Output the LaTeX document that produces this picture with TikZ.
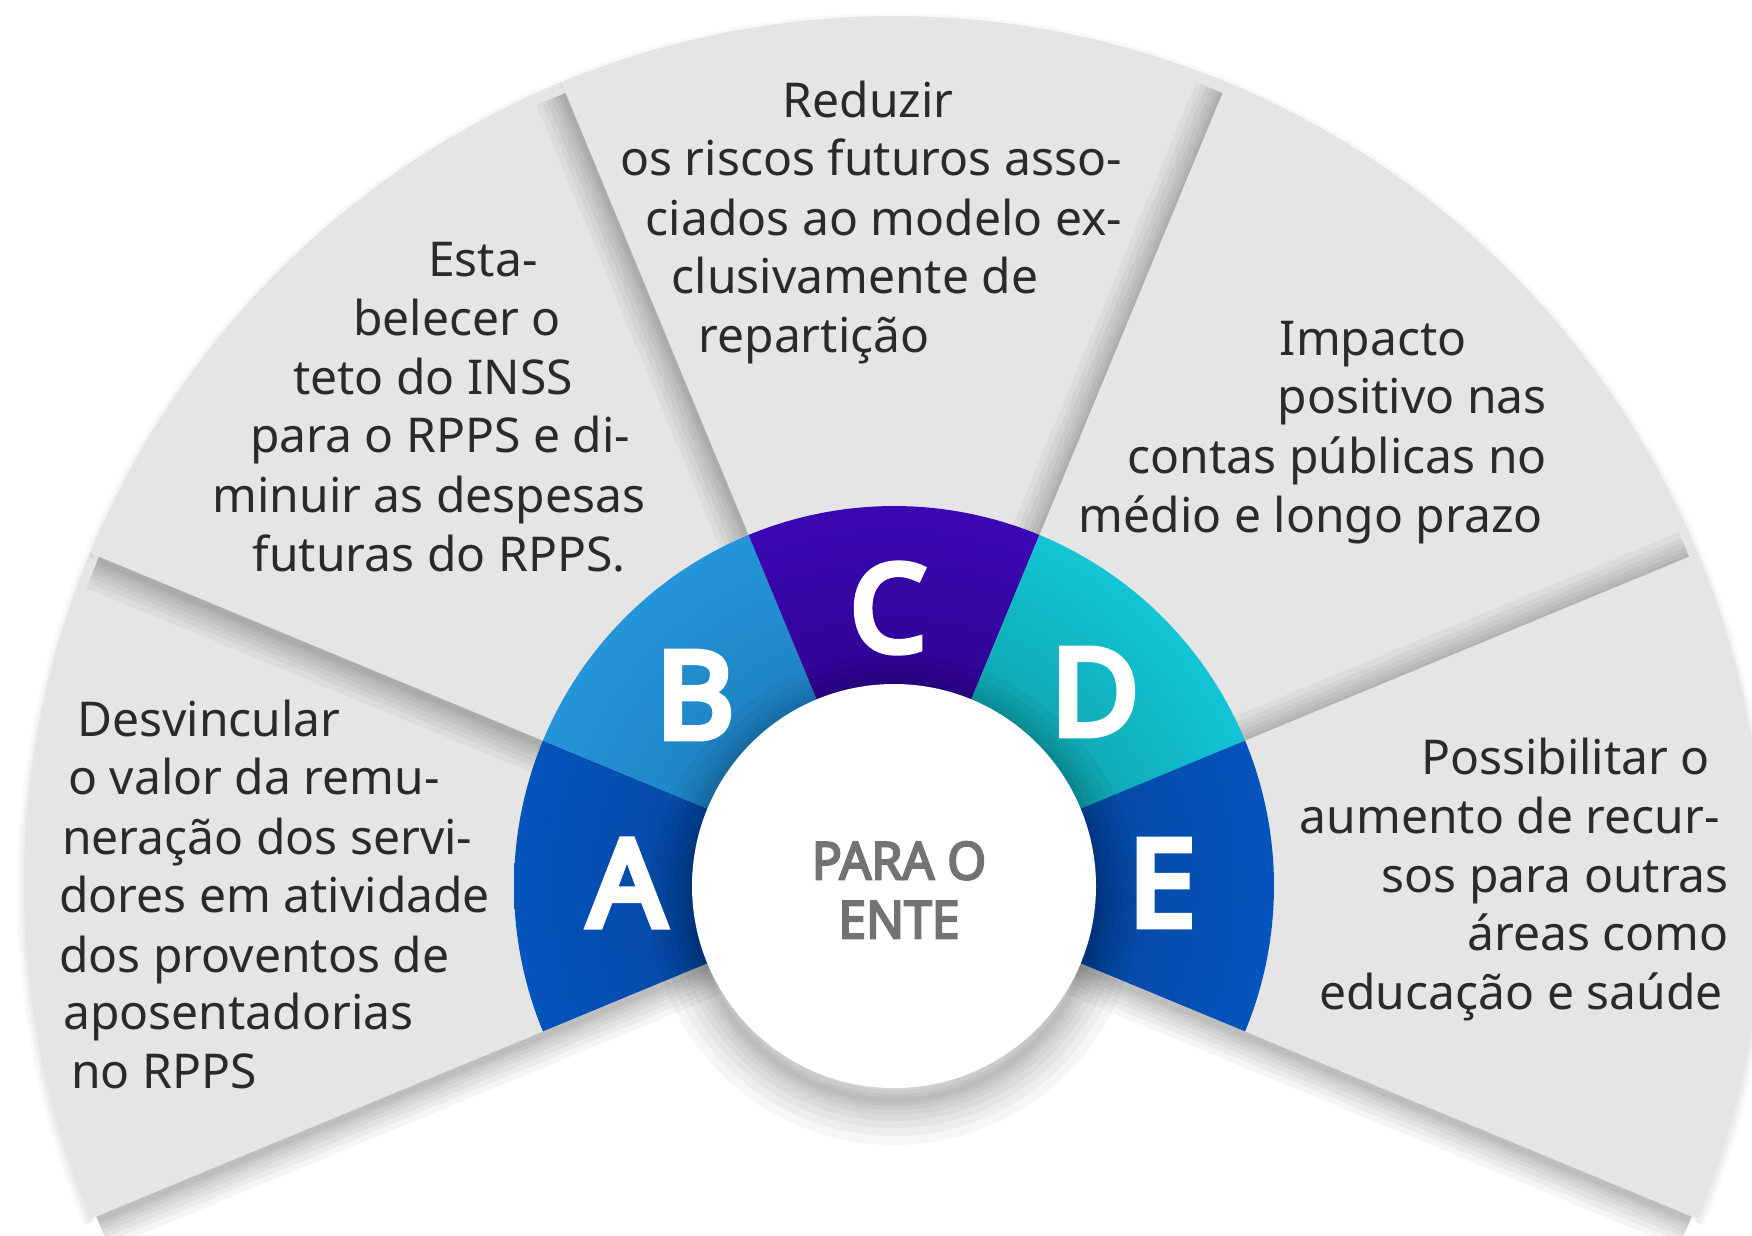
\documentclass[tikz,border=0pt]{standalone}
\usepackage{fontspec}
\usetikzlibrary{calc}
\setmainfont{Noto Sans}
\newfontfamily\heavyfont[FakeBold=6]{Noto Sans}
\newfontfamily\condfont[FakeStretch=0.96,FakeBold=4]{Noto Sans}
\definecolor{greyS}{HTML}{E5E5E5}
\definecolor{txt}{HTML}{2A2A2A}
\definecolor{centretxt}{HTML}{737373}
\definecolor{Aout}{HTML}{0553BC}\definecolor{Ain}{HTML}{063C8A}
\definecolor{Bout}{HTML}{2495DA}\definecolor{Bin}{HTML}{196CA8}
\definecolor{Cout}{HTML}{3B07B4}\definecolor{Cin}{HTML}{22026E}
\definecolor{Dout}{HTML}{12C5D5}\definecolor{Din}{HTML}{0C8286}
\definecolor{Eout}{HTML}{0553BC}\definecolor{Ein}{HTML}{063C8A}
\tikzset{
  body/.style={font=\fontsize{48}{58}\selectfont, text=txt, inner sep=0pt},
  letter/.style={font=\heavyfont\fontsize{120}{120}\selectfont, text=white, inner sep=0pt},
  centre/.style={font=\condfont\fontsize{52}{59}\selectfont, text=centretxt, align=center, inner sep=0pt},
  greysector/.style={fill=greyS},
  shadowline/.style={draw=black, draw opacity=0.04, line cap=butt},
  faintline/.style={draw=black, draw opacity=0.025},
}
\begin{document}
\begin{tikzpicture}[x=1pt,y=-1pt]
\useasboundingbox (0,0) rectangle (1752,1235);
\clip (0,0) rectangle (1752,1235);
\fill[white] (0,0) rectangle (1752,1235);
\coordinate (O) at (894,886);
\coordinate (Os) at (894,890);
\def\Rg{870}
% grey outer sectors with soft shadows
\foreach \a/\b in {157.5/202.5,112.5/157.5,67.5/112.5,22.5/67.5,337.5/382.5}{
  \foreach \w in {60,48,38,28,20,12,6}{
    \draw[shadowline, line width=\w pt] (Os) -- ++(-\a:\Rg-8);
    \draw[shadowline, line width=\w pt] (Os) -- ++(-\b:\Rg-8);
  }
  \foreach \w in {14,8,4}{
    \draw[faintline, line width=\w pt] ($(Os)+(-\a:\Rg)$) arc[start angle=-\a, end angle=-\b, radius=\Rg];
  }
  \fill[greysector] (O) -- ++(-\a:\Rg) arc[start angle=-\a, end angle=-\b, radius=\Rg] -- cycle;
}
% coloured ring
\foreach \a/\b/\ci/\co in {157.5/202.5/Ain/Aout,112.5/157.5/Bin/Bout,67.5/112.5/Cin/Cout,22.5/67.5/Din/Dout,337.5/382.5/Ein/Eout}{
  \begin{scope}
    \clip (O) -- ++(-\a:380) arc[start angle=-\a, end angle=-\b, radius=380] -- cycle;
    \shade[inner color=\ci, outer color=\co] (O) circle (380);
  \end{scope}
}
% centre disc with shadow
\foreach \w in {90,72,56,42,30,20,12,5}{
  \draw[draw=black, draw opacity=0.035, line width=\w pt] (894,900) circle (200);
}
\fill[white] (O) circle (202);
% letters
\node[letter] (lA) at (627,883) {A};
\node[letter] (lB) at (695,695) {B};
\node[letter] (lC) at (888,608) {C};
\node[letter] (lD) at (1095,692) {D};
\node[letter] (lE) at (1162,883) {E};
\node[centre] (ctr) at (899,890) {PARA O\\ENTE};
% texts A
\begin{scope}[every node/.style={body, anchor=base west}]
\node (a1) at (77,736) {Desvincular};
\node (a2) at (68,794) {o valor da remu-};
\node (a3) at (62,854) {neração dos servi-};
\node (a4) at (59,912) {dores em atividade};
\node (a5) at (59,972) {dos proventos de};
\node (a6) at (63,1029) {aposentadorias};
\node (a7) at (71,1088) {no RPPS};
\end{scope}
% texts B, C
\begin{scope}[every node/.style={body, anchor=base}]
\node (b1) at (483,276) {Esta-};
\node (b2) at (457,335) {belecer o};
\node (b3) at (433,394) {teto do INSS};
\node (b4) at (440,452) {para o RPPS e di-};
\node (b5) at (429,512) {minuir as despesas};
\node (b6) at (439,571) {futuras do RPPS.};
\node (c1) at (868,117) {Reduzir};
\node (c2) at (871,175) {os riscos futuros asso-};
\node (c3) at (884,235) {ciados ao modelo ex-};
\node (c4) at (855,293) {clusivamente de};
\node (c5) at (814,352) {repartição};
\end{scope}
% texts D, E
\begin{scope}[every node/.style={body, anchor=base east}]
\node (d1) at (1467,355) {Impacto};
\node (d2) at (1547,413) {positivo nas};
\node (d3) at (1547,473) {contas públicas no};
\node (d4) at (1543,532) {médio e longo prazo};
\node (e1) at (1710,774) {Possibilitar o};
\node (e2) at (1720,833) {aumento de recur-};
\node (e3) at (1729,892) {sos para outras};
\node (e4) at (1729,950) {áreas como};
\node (e5) at (1723,1009) {educação e saúde};
\end{scope}
\end{tikzpicture}
\end{document}
